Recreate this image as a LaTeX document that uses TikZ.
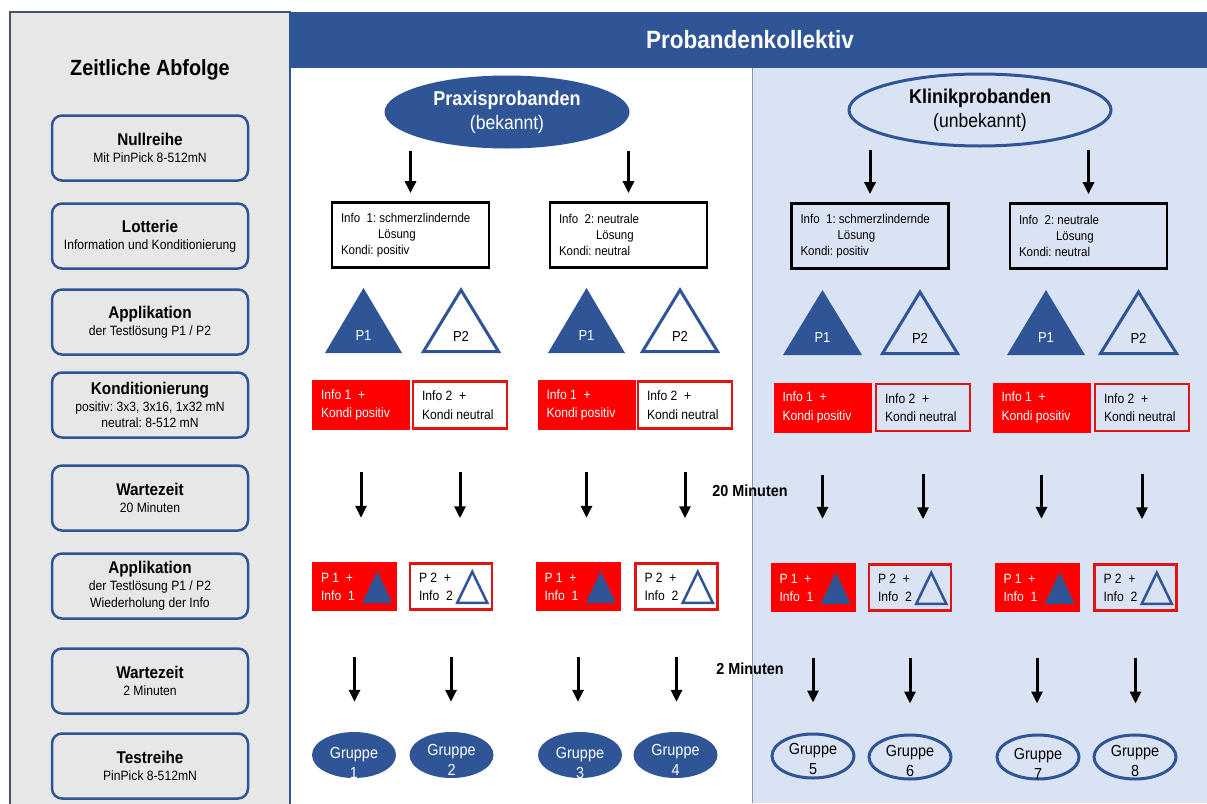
\documentclass[tikz,border=0pt]{standalone}
\usepackage{fontspec}
\setmainfont{Liberation Sans}[FakeStretch=0.9]
\usetikzlibrary{shapes.geometric,arrows.meta}
\frenchspacing

\definecolor{dblue}{RGB}{47,85,151}
\definecolor{panel}{RGB}{231,231,231}
\definecolor{lblue}{RGB}{218,227,243}
\definecolor{frame}{RGB}{68,84,106}
\definecolor{sep}{RGB}{132,151,176}
\definecolor{kred}{RGB}{255,0,0}
\definecolor{kredline}{RGB}{225,20,20}

\newcommand{\fsz}[2]{\fontsize{#1}{#2}\selectfont}
\newcommand{\steptitle}[1]{{\fsz{17}{19}\bfseries #1}}

\tikzset{
  >={Triangle[length=12pt,width=11pt]},
  arr/.style={->, line width=3pt, black},
  stepbox/.style={draw=dblue, line width=2.5pt, rounded corners=10pt, fill=panel,
    minimum width=196pt, minimum height=65pt, align=center, inner sep=0pt, font=\fsz{13.5}{17.5}},
  infobox/.style={draw=black, line width=2.8pt, minimum height=65pt, text width=139pt,
    inner xsep=9pt, inner ysep=0pt, align=flush left, font=\fsz{12.8}{16}},
  kondired/.style={fill=kred, text=white, minimum height=50pt, text width=80pt,
    inner xsep=9pt, inner ysep=0pt, align=flush left, font=\fsz{13.5}{18.5}},
  kondiwhite/.style={draw=kredline, line width=2.5pt, minimum height=47pt, text width=76pt,
    inner xsep=9pt, inner ysep=0pt, align=flush left, font=\fsz{13.5}{18.5}},
  appred/.style={fill=kred, text=white, minimum height=49pt, text width=67pt,
    inner xsep=9pt, inner ysep=0pt, align=flush left, font=\fsz{13.5}{18}},
  appwhite/.style={draw=kredline, line width=2.5pt, minimum height=46pt, text width=64pt,
    inner xsep=9pt, inner ysep=0pt, align=flush left, font=\fsz{13.5}{18}},
  grpfull/.style={ellipse, fill=dblue, minimum width=84pt, minimum height=46pt, inner sep=0pt},
  grpline/.style={ellipse, draw=dblue, line width=3pt, minimum width=82pt, minimum height=44pt, inner sep=0pt},
  grptxt/.style={align=center, font=\fsz{16}{20}, inner sep=0pt},
  ptxt/.style={font=\fsz{14.5}{16}},
  minlabel/.style={font=\fsz{16}{18}\bfseries}
}

\begin{document}
\begin{tikzpicture}[x=1pt,y=-1pt]
\useasboundingbox (0,0) rectangle (1207,803);
% Hintergrund
\fill[white] (0,0) rectangle (1207,803);
\fill[lblue] (752,68) rectangle (1207,803);
\draw[sep, line width=1pt] (752,68) -- (752,803);
\filldraw[fill=panel, draw=frame, line width=1.2pt] (10,12) rectangle (290,812);
\fill[dblue] (290,12) rectangle (1207,68);
\draw[dblue, line width=2pt] (290,12) -- (290,803);
\node[text=white, font=\fsz{25}{28}\bfseries] (koll) at (750,40) {Probandenkollektiv};

% zeitliche Abfolge
\node[font=\fsz{22}{24}\bfseries] (zeit) at (150,70) {Zeitliche Abfolge};
\node[stepbox] (s1) at (150,148) {\steptitle{Nullreihe}\\Mit PinPick 8-512mN};
\node[stepbox] (s2) at (150,236) {\steptitle{Lotterie}\\Information und Konditionierung};
\node[stepbox] (s3) at (150,322) {\steptitle{Applikation}\\der Testlösung P1 / P2};
\node[stepbox, font=\fsz{13.5}{16.5}] (s4) at (150,405) {\steptitle{Konditionierung}\\positiv: 3x3, 3x16, 1x32 mN\\neutral: 8-512 mN};
\node[stepbox] (s5) at (150,498) {\steptitle{Wartezeit}\\20 Minuten};
\node[stepbox, font=\fsz{13.5}{17}] (s6) at (150,586) {\steptitle{Applikation}\\der Testlösung P1 / P2\\Wiederholung der Info};
\node[stepbox] (s7) at (150,681) {\steptitle{Wartezeit}\\2 Minuten};
\node[stepbox] (s8) at (150,766) {\steptitle{Testreihe}\\PinPick 8-512mN};

% Probandengruppen
\node[ellipse, fill=dblue, text=white, minimum width=245pt, minimum height=73pt, align=center,
  font=\fsz{19.5}{24}] (pra) at (507,112) {{\fsz{20}{24}\bfseries Praxisprobanden}\\(bekannt)};
\node[ellipse, draw=dblue, line width=3pt, minimum width=262pt, minimum height=72pt, align=center,
  font=\fsz{19.5}{24}] (kli) at (980,110) {{\fsz{20}{24}\bfseries Klinikprobanden}\\(unbekannt)};

% Lotterie
\node[infobox, fill=white] (i1) at (410.5,235) {Info\ \ 1: schmerzlindernde\\\hspace*{37pt}Lösung\\Kondi: positiv};
\node[infobox, fill=white] (i2) at (628.5,235) {Info\ \ 2: neutrale\\\hspace*{37pt}Lösung\\Kondi: neutral};
\node[infobox] (i3) at (870,236) {Info\ \ 1: schmerzlindernde\\\hspace*{37pt}Lösung\\Kondi: positiv};
\node[infobox] (i4) at (1088.5,236) {Info\ \ 2: neutrale\\\hspace*{37pt}Lösung\\Kondi: neutral};
\draw[arr, shorten <=2pt, shorten >=8pt] (i1.north |- pra.south) -- (i1.north);
\draw[arr, shorten <=2pt, shorten >=8pt] (i2.north |- pra.south) -- (i2.north);
\draw[arr, shorten <=2pt, shorten >=8pt] (i3.north |- kli.south) -- (i3.north);
\draw[arr, shorten <=2pt, shorten >=8pt] (i4.north |- kli.south) -- (i4.north);

% Testloesungen P1 / P2
\fill[dblue] (325,353) -- (402,353) -- (363.5,288) -- cycle;
\draw[dblue, line width=3pt] (423.5,351.5) -- (498.5,351.5) -- (461,290) -- cycle;
\fill[dblue] (548,353) -- (625,353) -- (586.5,288) -- cycle;
\draw[dblue, line width=3pt] (642.5,351.5) -- (717.5,351.5) -- (680,290) -- cycle;
\fill[dblue] (783,355) -- (862,355) -- (822.5,290) -- cycle;
\draw[dblue, line width=3pt] (882.5,353.5) -- (957.5,353.5) -- (920,292) -- cycle;
\fill[dblue] (1007,355) -- (1085,355) -- (1046,290) -- cycle;
\draw[dblue, line width=3pt] (1100.5,353.5) -- (1176.5,353.5) -- (1138.5,292) -- cycle;
\node[ptxt, text=white] (p1) at (363.5,336) {P1};
\node[ptxt] (p2) at (461,336) {P2};
\node[ptxt, text=white] (p3) at (586.5,336) {P1};
\node[ptxt] (p4) at (680,336) {P2};
\node[ptxt, text=white] (p5) at (822.5,338) {P1};
\node[ptxt] (p6) at (920,338) {P2};
\node[ptxt, text=white] (p7) at (1046,338) {P1};
\node[ptxt] (p8) at (1138.5,338) {P2};

% Konditionierung
\node[kondired] (k1) at (361,405) {Info 1\ \ +\\Kondi positiv};
\node[kondiwhite, fill=white] (k2) at (460,405) {Info 2\ \ +\\Kondi neutral};
\node[kondired] (k3) at (586.5,405) {Info 1\ \ +\\Kondi positiv};
\node[kondiwhite, fill=white] (k4) at (685,405) {Info 2\ \ +\\Kondi neutral};
\node[kondired] (k5) at (822.5,407.5) {Info 1\ \ +\\Kondi positiv};
\node[kondiwhite] (k6) at (923,407.5) {Info 2\ \ +\\Kondi neutral};
\node[kondired] (k7) at (1041.5,407.5) {Info 1\ \ +\\Kondi positiv};
\node[kondiwhite] (k8) at (1142,407.5) {Info 2\ \ +\\Kondi neutral};

% zweite Applikation
\node[appred] (a1) at (354.5,586.5) {P 1\ \ +\\Info\ \ 1};
\node[appwhite, fill=white] (a2) at (451,586.5) {P 2\ \ +\\Info\ \ 2};
\node[appred] (a3) at (578,586.5) {P 1\ \ +\\Info\ \ 1};
\node[appwhite, fill=white] (a4) at (676.5,586.5) {P 2\ \ +\\Info\ \ 2};
\node[appred] (a5) at (813,587.5) {P 1\ \ +\\Info\ \ 1};
\node[appwhite] (a6) at (910,587.5) {P 2\ \ +\\Info\ \ 2};
\node[appred] (a7) at (1037,587.5) {P 1\ \ +\\Info\ \ 1};
\node[appwhite] (a8) at (1135.5,587.5) {P 2\ \ +\\Info\ \ 2};
\fill[dblue] ([xshift=-35pt,yshift=8pt]a1.south east) -- ++(30,0) -- ++(-15,-32) -- cycle;
\draw[dblue, line width=2.5pt] ([xshift=-36pt,yshift=8pt]a2.south east) -- ++(30,0) -- ++(-15,-31) -- cycle;
\fill[dblue] ([xshift=-35pt,yshift=8pt]a3.south east) -- ++(30,0) -- ++(-15,-32) -- cycle;
\draw[dblue, line width=2.5pt] ([xshift=-36pt,yshift=8pt]a4.south east) -- ++(30,0) -- ++(-15,-31) -- cycle;
\fill[dblue] ([xshift=-35pt,yshift=8pt]a5.south east) -- ++(30,0) -- ++(-15,-32) -- cycle;
\draw[dblue, line width=2.5pt] ([xshift=-36pt,yshift=8pt]a6.south east) -- ++(30,0) -- ++(-15,-31) -- cycle;
\fill[dblue] ([xshift=-35pt,yshift=8pt]a7.south east) -- ++(30,0) -- ++(-15,-32) -- cycle;
\draw[dblue, line width=2.5pt] ([xshift=-36pt,yshift=8pt]a8.south east) -- ++(30,0) -- ++(-15,-31) -- cycle;

% Gruppen
\node[grpfull] (g1) at (354,755) {};
\node[grpfull] (g2) at (451.5,755) {};
\node[grpfull] (g3) at (580,755) {};
\node[grpfull] (g4) at (675.5,755) {};
\node[grpline] (g5) at (813,756) {};
\node[grpline] (g6) at (910,757) {};
\node[grpline] (g7) at (1038,757) {};
\node[grpline] (g8) at (1135,757) {};
\node[grptxt, text=white] (g1t) at ([yshift=-8pt]g1.center) {Gruppe\\1};
\node[grptxt, text=white] (g2t) at ([yshift=-5pt]g2.center) {Gruppe\\2};
\node[grptxt, text=white] (g3t) at ([yshift=-8pt]g3.center) {Gruppe\\3};
\node[grptxt, text=white] (g4t) at ([yshift=-5pt]g4.center) {Gruppe\\4};
\node[grptxt] (g5t) at ([yshift=-3pt]g5.center) {Gruppe\\5};
\node[grptxt] (g6t) at ([yshift=-4pt]g6.center) {Gruppe\\6};
\node[grptxt] (g7t) at ([yshift=-7pt]g7.center) {Gruppe\\7};
\node[grptxt] (g8t) at ([yshift=-4pt]g8.center) {Gruppe\\8};

% Wartezeiten
\foreach \k/\a in {k1/a1,k2/a2,k3/a3,k4/a4,k5/a5,k6/a6,k7/a7,k8/a8}
  \draw[arr, shorten <=42pt, shorten >=44pt] (\k.south) -- (\k.south |- \a.north);
\foreach \a/\g in {a1/g1,a2/g2,a3/g3,a4/g4,a5/g5,a6/g6,a7/g7,a8/g8}
  \draw[arr, shorten <=46pt, shorten >=30pt] (\a.south) -- (\a.south |- \g.north);
\node[minlabel] (w20) at (750,491) {20 Minuten};
\node[minlabel] (w2) at (750,669) {2 Minuten};
\end{tikzpicture}
\end{document}
